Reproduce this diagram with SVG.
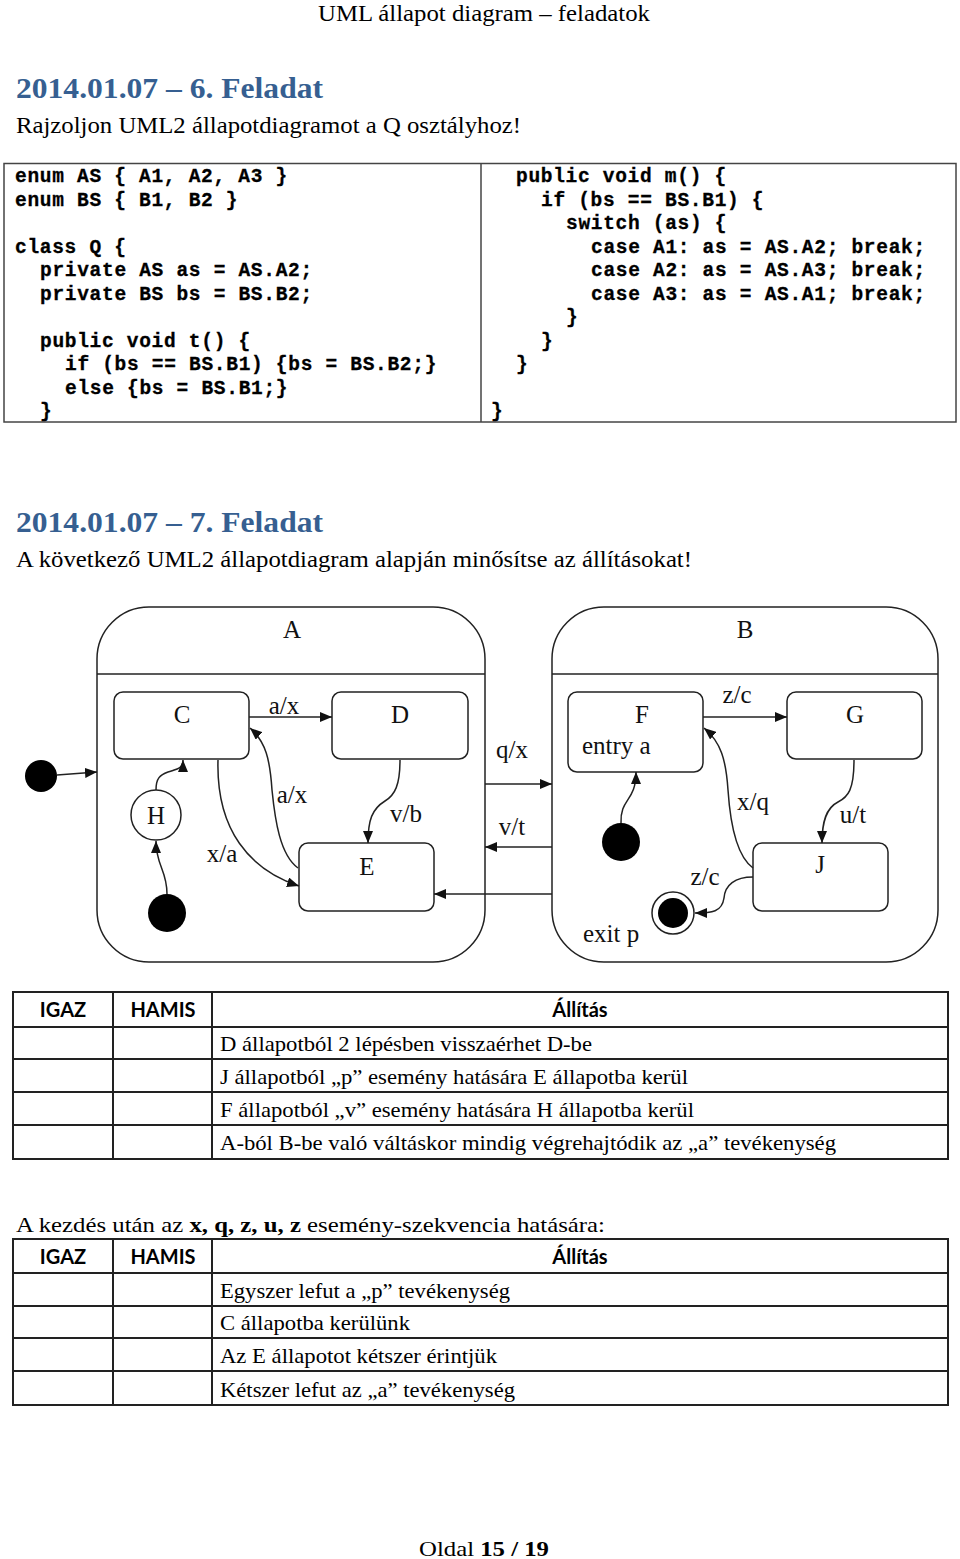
<svg xmlns="http://www.w3.org/2000/svg" width="960" height="1559" viewBox="0 0 960 1559">
<style>
.serif{font-family:"Liberation Serif","Times New Roman",serif;fill:#000}
.head{font-family:"Liberation Serif",serif;font-weight:bold;fill:#365F91;font-size:30px}
.code{font-family:"Liberation Mono","Courier New",monospace;font-weight:bold;font-size:19.5px;letter-spacing:0.7px;fill:#000;stroke:#000;stroke-width:0.3}
.lbl{font-family:"Liberation Serif","Times New Roman",serif;font-size:25px;fill:#111}
.th{font-family:Lato,"Open Sans",sans-serif;font-weight:bold;font-size:20px;fill:#000}
.row{font-family:"Liberation Serif","Times New Roman",serif;font-size:22px;fill:#000}
.box{fill:none;stroke:#222;stroke-width:1.5}
.st{fill:#fff;stroke:#222;stroke-width:1.5}
.cn{fill:none;stroke:#222;stroke-width:1.5}
.tbl{fill:none;stroke:#222;stroke-width:2}
</style>
<defs>
<marker id="ah" markerUnits="userSpaceOnUse" markerWidth="12" markerHeight="10" refX="12" refY="5" orient="auto">
<path d="M0,0 L12,5 L0,10 z" fill="#111"/>
</marker>
</defs>
<rect width="960" height="1559" fill="#fff"/>

<text class="serif" x="318" y="21" font-size="24" textLength="332" lengthAdjust="spacingAndGlyphs">UML állapot diagram – feladatok</text>

<text class="head" x="16" y="98" textLength="307" lengthAdjust="spacingAndGlyphs">2014.01.07 – 6. Feladat</text>
<text class="serif" x="16" y="133" font-size="24" textLength="505" lengthAdjust="spacingAndGlyphs">Rajzoljon UML2 állapotdiagramot a Q osztályhoz!</text>

<g id="code">
<rect x="4" y="163.5" width="952" height="258.5" fill="none" stroke="#444" stroke-width="1.5"/>
<line x1="481" y1="163.5" x2="481" y2="422" stroke="#444" stroke-width="1.5"/>
<text class="code" x="15" y="182">enum AS { A1, A2, A3 }</text>
<text class="code" x="15" y="205.5">enum BS { B1, B2 }</text>
<text class="code" x="15" y="252.5">class Q {</text>
<text class="code" x="40" y="276">private AS as = AS.A2;</text>
<text class="code" x="40" y="299.5">private BS bs = BS.B2;</text>
<text class="code" x="40" y="346.5">public void t() {</text>
<text class="code" x="65" y="370">if (bs == BS.B1) {bs = BS.B2;}</text>
<text class="code" x="65" y="393.5">else {bs = BS.B1;}</text>
<text class="code" x="40" y="417">}</text>
<text class="code" x="516" y="182">public void m() {</text>
<text class="code" x="541" y="205.5">if (bs == BS.B1) {</text>
<text class="code" x="566" y="229">switch (as) {</text>
<text class="code" x="591" y="252.5">case A1: as = AS.A2; break;</text>
<text class="code" x="591" y="276">case A2: as = AS.A3; break;</text>
<text class="code" x="591" y="299.5">case A3: as = AS.A1; break;</text>
<text class="code" x="566" y="323">}</text>
<text class="code" x="541" y="346.5">}</text>
<text class="code" x="516" y="370">}</text>
<text class="code" x="491" y="417">}</text>
</g>

<text class="head" x="16" y="532" textLength="307" lengthAdjust="spacingAndGlyphs">2014.01.07 – 7. Feladat</text>
<text class="serif" x="16" y="567" font-size="24" textLength="676" lengthAdjust="spacingAndGlyphs">A következő UML2 állapotdiagram alapján minősítse az állításokat!</text>

<!-- State diagram -->
<g id="state-A">
<rect class="box" x="97" y="607" width="388" height="355" rx="52" ry="52"/>
<line class="box" x1="97" y1="674" x2="485" y2="674"/>
<text class="lbl" x="292" y="638" text-anchor="middle">A</text>
</g>
<g id="state-B">
<rect class="box" x="552" y="607" width="386" height="355" rx="52" ry="52"/>
<line class="box" x1="552" y1="674" x2="938" y2="674"/>
<text class="lbl" x="745" y="638" text-anchor="middle">B</text>
<text class="lbl" x="583" y="942">exit p</text>
</g>
<g id="initial-outer"><circle cx="41" cy="776" r="16" fill="#000"/></g>
<g id="state-C">
<rect class="st" x="114" y="692" width="135" height="67" rx="9"/>
<text class="lbl" x="182" y="723" text-anchor="middle">C</text>
</g>
<g id="state-D">
<rect class="st" x="332" y="692" width="136" height="67" rx="9"/>
<text class="lbl" x="400" y="723" text-anchor="middle">D</text>
</g>
<g id="state-E">
<rect class="st" x="299" y="843" width="135" height="68" rx="9"/>
<text class="lbl" x="367" y="875" text-anchor="middle">E</text>
</g>
<g id="history-H">
<circle class="st" cx="156" cy="815" r="25"/>
<text class="lbl" x="156" y="824" text-anchor="middle">H</text>
</g>
<g id="initial-A"><circle cx="167" cy="913" r="19" fill="#000"/></g>
<g id="state-F">
<rect class="st" x="568" y="692" width="135" height="80" rx="9"/>
<text class="lbl" x="642" y="723" text-anchor="middle">F</text>
<text class="lbl" x="582" y="754">entry a</text>
</g>
<g id="state-G">
<rect class="st" x="787" y="692" width="135" height="67" rx="9"/>
<text class="lbl" x="855" y="723" text-anchor="middle">G</text>
</g>
<g id="state-J">
<rect class="st" x="753" y="843" width="135" height="68" rx="9"/>
<text class="lbl" x="820" y="873" text-anchor="middle">J</text>
</g>
<g id="initial-B"><circle cx="621" cy="842" r="19" fill="#000"/></g>
<g id="final-B">
<circle cx="673" cy="913" r="21" fill="#fff" stroke="#222" stroke-width="1.5"/>
<circle cx="673" cy="913" r="15" fill="#000"/>
</g>

<g id="connectors">
<path class="cn" d="M57,775 L97,772" marker-end="url(#ah)"/>
<path class="cn" d="M249,717 L332,717" marker-end="url(#ah)"/>
<path class="cn" d="M156,790 C156,778 160,775 168,772 C177,769 183,769 183,760" marker-end="url(#ah)"/>
<path class="cn" d="M167,894 C167,870 156,866 156,841" marker-end="url(#ah)"/>
<path class="cn" d="M218,760 C216,830 250,870 299,886" marker-end="url(#ah)"/>
<path class="cn" d="M298,868 C280,855 275,820 272,790 C270,760 266,742 250,728" marker-end="url(#ah)"/>
<path class="cn" d="M400,760 C400,785 395,795 385,801 C372,809 368,820 368,843" marker-end="url(#ah)"/>
<path class="cn" d="M485,784 L552,784" marker-end="url(#ah)"/>
<path class="cn" d="M552,847 L485,847" marker-end="url(#ah)"/>
<path class="cn" d="M552,894 L434,894" marker-end="url(#ah)"/>
<path class="cn" d="M703,717 L787,717" marker-end="url(#ah)"/>
<path class="cn" d="M621,823 C620,798 636,802 636,772" marker-end="url(#ah)"/>
<path class="cn" d="M854,760 C854,790 848,797 838,802 C826,808 822,822 822,843" marker-end="url(#ah)"/>
<path class="cn" d="M753,868 C735,855 730,820 728,790 C726,760 721,742 704,728" marker-end="url(#ah)"/>
<path class="cn" d="M753,877 C735,877 725,885 724,898 C722,912 712,913 695,913" marker-end="url(#ah)"/>
<text class="lbl" x="284" y="714" text-anchor="middle">a/x</text>
<text class="lbl" x="292" y="803" text-anchor="middle">a/x</text>
<text class="lbl" x="222" y="862" text-anchor="middle">x/a</text>
<text class="lbl" x="406" y="822" text-anchor="middle">v/b</text>
<text class="lbl" x="512" y="758" text-anchor="middle">q/x</text>
<text class="lbl" x="512" y="835" text-anchor="middle">v/t</text>
<text class="lbl" x="737" y="703" text-anchor="middle">z/c</text>
<text class="lbl" x="753" y="810" text-anchor="middle">x/q</text>
<text class="lbl" x="853" y="823" text-anchor="middle">u/t</text>
<text class="lbl" x="705" y="885" text-anchor="middle">z/c</text>
</g>

<!-- Table 1 -->
<g id="table1">
<rect class="tbl" x="13" y="992" width="935" height="167"/>
<line class="tbl" x1="13" y1="1027" x2="948" y2="1027"/>
<line class="tbl" x1="13" y1="1059" x2="948" y2="1059"/>
<line class="tbl" x1="13" y1="1092" x2="948" y2="1092"/>
<line class="tbl" x1="13" y1="1125" x2="948" y2="1125"/>
<line class="tbl" x1="113" y1="992" x2="113" y2="1159"/>
<line class="tbl" x1="212" y1="992" x2="212" y2="1159"/>
<text class="th" x="63" y="1017" text-anchor="middle">IGAZ</text>
<text class="th" x="163" y="1017" text-anchor="middle">HAMIS</text>
<text class="th" x="580" y="1017" text-anchor="middle">Állítás</text>
<text class="row" x="220" y="1051" textLength="372" lengthAdjust="spacingAndGlyphs">D állapotból 2 lépésben visszaérhet D-be</text>
<text class="row" x="220" y="1084" textLength="468" lengthAdjust="spacingAndGlyphs">J állapotból „p” esemény hatására E állapotba kerül</text>
<text class="row" x="220" y="1117" textLength="474" lengthAdjust="spacingAndGlyphs">F állapotból „v” esemény hatására H állapotba kerül</text>
<text class="row" x="220" y="1150" textLength="616" lengthAdjust="spacingAndGlyphs">A-ból B-be való váltáskor mindig végrehajtódik az „a” tevékenység</text>
</g>

<text class="row" x="16" y="1232" textLength="589" lengthAdjust="spacingAndGlyphs">A kezdés után az <tspan font-weight="bold">x, q, z, u, z</tspan> esemény-szekvencia hatására:</text>

<g id="table2">
<rect class="tbl" x="13" y="1239" width="935" height="166"/>
<line class="tbl" x1="13" y1="1273" x2="948" y2="1273"/>
<line class="tbl" x1="13" y1="1306" x2="948" y2="1306"/>
<line class="tbl" x1="13" y1="1338" x2="948" y2="1338"/>
<line class="tbl" x1="13" y1="1371" x2="948" y2="1371"/>
<line class="tbl" x1="113" y1="1239" x2="113" y2="1405"/>
<line class="tbl" x1="212" y1="1239" x2="212" y2="1405"/>
<text class="th" x="63" y="1264" text-anchor="middle">IGAZ</text>
<text class="th" x="163" y="1264" text-anchor="middle">HAMIS</text>
<text class="th" x="580" y="1264" text-anchor="middle">Állítás</text>
<text class="row" x="220" y="1298" textLength="290" lengthAdjust="spacingAndGlyphs">Egyszer lefut a „p” tevékenység</text>
<text class="row" x="220" y="1330" textLength="190" lengthAdjust="spacingAndGlyphs">C állapotba kerülünk</text>
<text class="row" x="220" y="1363" textLength="277" lengthAdjust="spacingAndGlyphs">Az E állapotot kétszer érintjük</text>
<text class="row" x="220" y="1397" textLength="295" lengthAdjust="spacingAndGlyphs">Kétszer lefut az „a” tevékenység</text>
</g>

<text class="row" x="419" y="1556" font-size="24" textLength="130" lengthAdjust="spacingAndGlyphs">Oldal <tspan font-weight="bold">15 / 19</tspan></text>
</svg>
